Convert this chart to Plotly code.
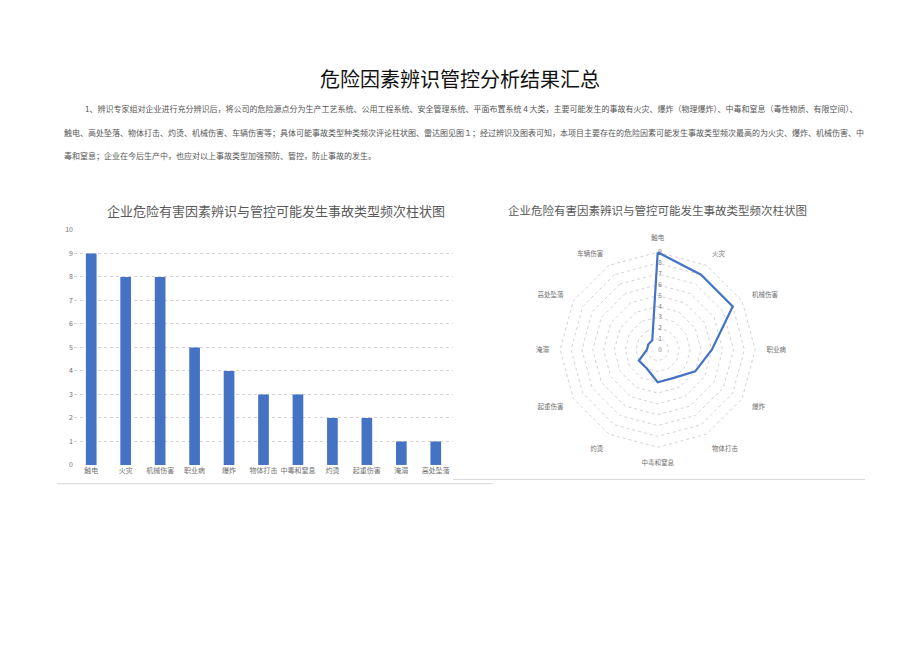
import plotly.graph_objects as go

# ---------------- data ----------------
bar_categories = ["触电", "火灾", "机械伤害", "职业病", "爆炸", "物体打击",
                  "中毒和窒息", "灼烫", "起重伤害", "淹溺", "高处坠落"]
bar_values = [9, 8, 8, 5, 4, 3, 3, 2, 2, 1, 1]

radar_categories = ["触电", "火灾", "机械伤害", "职业病", "爆炸", "物体打击",
                    "中毒和窒息", "灼烫", "起重伤害", "淹溺", "高处坠落", "车辆伤害"]
radar_values = [9, 8, 8, 5, 4, 3, 3, 2, 2, 1, 1, 1]

y_ticks = list(range(0, 11))
r_ticks = list(range(0, 11))
r_ticktext = [str(v) for v in range(0, 10)] + [""]

main_title = "危险因素辨识管控分析结果汇总"
chart_title = "企业危险有害因素辨识与管控可能发生事故类型频次柱状图"
para_lines = [
    "1、辨识专家组对企业进行充分辨识后，将公司的危险源点分为生产工艺系统、公用工程系统、安全管理系统、平面布置系统４大类，主要可能发生的事故有火灾、爆炸（物理爆炸）、中毒和窒息（毒性物质、有限空间）、",
    "触电、高处坠落、物体打击、灼烫、机械伤害、车辆伤害等；具体可能事故类型种类频次评论柱状图、雷达图见图１；经过辨识及图表可知，本项目主要存在的危险因素可能发生事故类型频次最高的为火灾、爆炸、机械伤害、中",
    "毒和窒息；企业在今后生产中，也应对以上事故类型加强预防、管控，防止事故的发生。",
]

# ---------------- styling ----------------
W, H = 920, 651
OFF = 8  # page body margin compensation
FONT = "Noto Sans CJK SC"
BLUE = "#4472C4"
GRID = "#d6d0da"
TXT = "#7f7f7f"


def px(x):
    return (x - OFF) / W


def py(y):
    return 1 - (y - OFF) / H


fig = go.Figure()

fig.add_trace(go.Bar(
    x=bar_categories, y=bar_values, marker=dict(color=BLUE, line=dict(width=0)),
    xaxis="x", yaxis="y", showlegend=False,
))

r_closed = radar_values + radar_values[:1]
t_closed = radar_categories + radar_categories[:1]
fig.add_trace(go.Scatterpolar(
    r=r_closed, theta=t_closed, mode="lines",
    line=dict(color=BLUE, width=2.2), subplot="polar", showlegend=False,
))

fig.update_layout(
    width=W, height=H,
    margin=dict(l=0, r=0, t=0, b=0),
    paper_bgcolor="white", plot_bgcolor="white",
    font=dict(family=FONT, color=TXT),
    bargap=0.69,
    xaxis=dict(
        domain=[px(74), px(453)], anchor="y",
        showgrid=False, showline=False, zeroline=False, ticks="",
        tickfont=dict(size=7, color="#707070"),
        categoryorder="array", categoryarray=bar_categories,
    ),
    yaxis=dict(
        domain=[py(466), py(227.3)], anchor="x",
        range=[0, 10], tickvals=y_ticks,
        showgrid=True, gridcolor=GRID, griddash="dot", gridwidth=1,
        zeroline=False, showline=False, ticks="",
        tickfont=dict(size=7, color="#707070"),
    ),
    polar=dict(
        domain=dict(x=[px(547.7), px(767.7)], y=[py(459), py(239)]),
        bgcolor="rgba(0,0,0,0)",
        gridshape="linear",
        angularaxis=dict(
            rotation=90, direction="clockwise",
            showgrid=False, showline=False, ticks="",
            tickfont=dict(size=6.5, color="#707070"),
            categoryorder="array", categoryarray=radar_categories,
        ),
        radialaxis=dict(
            range=[0, 10], tickvals=r_ticks, ticktext=r_ticktext,
            angle=90, tickangle=90,
            showgrid=True, gridcolor=GRID, griddash="dot", gridwidth=1,
            showline=False, ticks="",
            tickfont=dict(size=6.5, color="#808080"),
        ),
    ),
)

annotations = [
    dict(text=main_title, x=px(460), y=py(74), xref="paper", yref="paper",
         showarrow=False, xanchor="center", yanchor="middle",
         font=dict(size=20, color="#111111", family=FONT)),
    dict(text=chart_title, x=px(276), y=py(208), xref="paper", yref="paper",
         showarrow=False, xanchor="center", yanchor="middle",
         font=dict(size=13, color="#595959", family=FONT)),
    dict(text=chart_title, x=px(657), y=py(207), xref="paper", yref="paper",
         showarrow=False, xanchor="center", yanchor="middle",
         font=dict(size=11.5, color="#595959", family=FONT)),
]
para_x = [83, 62, 62]
para_y = [104, 128, 152]
for line, lx, ly in zip(para_lines, para_x, para_y):
    annotations.append(dict(
        text=line, x=px(lx), y=py(ly), xref="paper", yref="paper",
        showarrow=False, xanchor="left", yanchor="middle",
        font=dict(size=8.0, color="#555555", family=FONT)))
fig.update_layout(annotations=annotations)

shapes = [
    dict(type="line", xref="paper", yref="paper", x0=px(57), x1=px(493), y0=py(485), y1=py(485),
         line=dict(color="#d8d8d8", width=1)),
    dict(type="line", xref="paper", yref="paper", x0=px(453), x1=px(865), y0=py(480.7), y1=py(480.7),
         line=dict(color="#d8d8d8", width=1)),
]
fig.update_layout(shapes=shapes)

fig.write_html("out.html")
